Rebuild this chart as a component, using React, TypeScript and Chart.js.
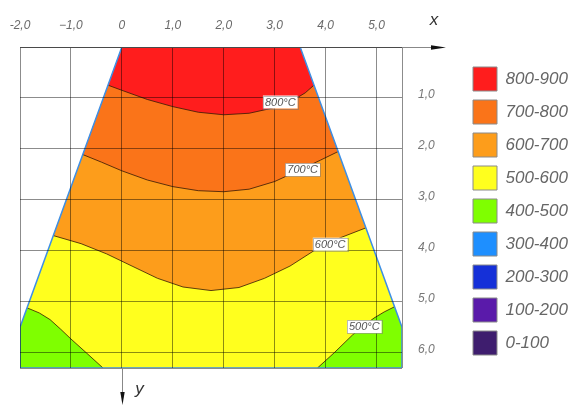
import React, { useEffect, useRef } from 'react';
import { Chart, registerables } from 'chart.js';

Chart.register(...registerables);

// ---- axis ticks ----
const xTicks = [-2, -1, 0, 1, 2, 3, 4, 5, 5.5];
const xTickLabels = ['-2,0', '\u22121,0', '0', '1,0', '2,0', '3,0', '4,0', '5,0', ''];
const yTicks = [0, 1, 2, 3, 4, 5, 6, 6.3];
const yTickLabels = ['', '1,0', '2,0', '3,0', '4,0', '5,0', '6,0', ''];

// ---- body outline (trapezoid) ----
const outlineX = [0, 3.5, 5.5, 5.5, -2, -2, 0];
const outlineY = [0, 0, 5.5, 6.3, 6.3, 5.5, 0];

// ---- isotherms ----
const c800X = [-0.27, 0, 0.5, 1.0, 1.5, 2.0, 2.5, 3.0, 3.4, 3.6, 3.77];
const c800Y = [0.75, 0.85, 1.03, 1.17, 1.28, 1.33, 1.3, 1.19, 1.02, 0.9, 0.75];

const c700X = [-0.77, -0.4, 0, 0.5, 1.0, 1.5, 2.0, 2.5, 3.0, 3.5, 3.9, 4.25];
const c700Y = [2.11, 2.26, 2.43, 2.61, 2.74, 2.82, 2.84, 2.79, 2.64, 2.41, 2.22, 2.05];

const c600X = [-1.35, -0.8, -0.3, 0.2, 0.7, 1.2, 1.75, 2.3, 2.8, 3.3, 3.8, 4.3, 4.79];
const c600Y = [3.7, 3.86, 4.06, 4.3, 4.54, 4.71, 4.78, 4.72, 4.54, 4.3, 3.98, 3.74, 3.55];

const c500LX = [-1.86, -1.62, -1.41, -1.2, -1.0, -0.7, -0.37];
const c500LY = [5.12, 5.22, 5.35, 5.54, 5.73, 6.0, 6.3];

const c500RX = [3.84, 4.17, 4.53, 4.75, 4.95, 5.15, 5.35];
const c500RY = [6.3, 6.0, 5.65, 5.47, 5.32, 5.2, 5.1];

// ---- isotherm labels ----
const isoLabels = ['800\u00B0C', '700\u00B0C', '600\u00B0C', '500\u00B0C'];
const isoLabelX = [3.11, 3.55, 4.09, 4.76];
const isoLabelY = [1.08, 2.41, 3.87, 5.49];

// ---- legend ----
const legendLabels = ['800-900', '700-800', '600-700', '500-600', '400-500', '300-400', '200-300', '100-200', '0-100'];
const legendColors = ['#ff1d1d', '#fa7419', '#fd9d1b', '#ffff1e', '#7fff00', '#1e8fff', '#1530d8', '#5a1aaa', '#3e1d6e'];

const FONT = '"Liberation Sans", "DejaVu Sans", sans-serif';

const pts = (xs: number[], ys: number[]) => xs.map((x, i) => ({ x, y: ys[i] }));

const isoLabelPlugin = {
  id: 'isoLabels',
  afterDraw(chart: any) {
    const { ctx, scales } = chart;
    ctx.save();
    ctx.font = `italic 11px ${FONT}`;
    ctx.textAlign = 'center';
    ctx.textBaseline = 'middle';
    isoLabels.forEach((t, i) => {
      const px = scales.x.getPixelForValue(isoLabelX[i]);
      const py = scales.y.getPixelForValue(isoLabelY[i]);
      const w = ctx.measureText(t).width + 4;
      const h = 13;
      ctx.fillStyle = '#ffffff';
      ctx.fillRect(px - w / 2, py - h / 2, w, h);
      ctx.strokeStyle = 'rgba(120,120,120,0.5)';
      ctx.lineWidth = 1;
      ctx.strokeRect(Math.round(px - w / 2) + 0.5, Math.round(py - h / 2) + 0.5, Math.round(w), h);
      ctx.fillStyle = '#555';
      ctx.fillText(t, px, py + 0.5);
    });
    ctx.restore();
  },
};

const arrowPlugin = {
  id: 'axisArrows',
  afterDraw(chart: any) {
    const { ctx, chartArea, scales } = chart;
    const y0 = Math.round(scales.y.getPixelForValue(0)) + 0.5;
    const x0 = Math.round(scales.x.getPixelForValue(0)) + 0.5;
    ctx.save();
    ctx.strokeStyle = '#888';
    ctx.lineWidth = 1;
    ctx.beginPath();
    ctx.moveTo(chartArea.right, y0);
    ctx.lineTo(chartArea.right + 33, y0);
    ctx.moveTo(x0, chartArea.bottom);
    ctx.lineTo(x0, chartArea.bottom + 26);
    ctx.stroke();
    ctx.fillStyle = '#111';
    ctx.beginPath();
    ctx.moveTo(chartArea.right + 44, y0);
    ctx.lineTo(chartArea.right + 29, y0 - 2.2);
    ctx.lineTo(chartArea.right + 29, y0 + 2.2);
    ctx.closePath();
    ctx.fill();
    ctx.beginPath();
    ctx.moveTo(x0, chartArea.bottom + 37);
    ctx.lineTo(x0 - 2.2, chartArea.bottom + 24);
    ctx.lineTo(x0 + 2.2, chartArea.bottom + 24);
    ctx.closePath();
    ctx.fill();
    ctx.font = `italic 17px ${FONT}`;
    ctx.fillStyle = '#333';
    ctx.textAlign = 'center';
    ctx.textBaseline = 'middle';
    ctx.fillText('x', chartArea.right + 32, 20);
    ctx.fillText('y', x0 + 17, chartArea.bottom + 21);
    ctx.restore();
  },
};

export default function App() {
  const ref = useRef<HTMLCanvasElement>(null);

  useEffect(() => {
    if (!ref.current) return;
    const top = [{ x: outlineX[1], y: outlineY[1] }, { x: outlineX[0], y: outlineY[0] }];
    const band = (xs: number[], ys: number[]) => {
      const p = pts(xs, ys);
      return [...p, ...top, p[0]];
    };
    const leftGreen = (() => {
      const p = pts(c500LX, c500LY);
      return [...p, { x: outlineX[4], y: outlineY[4] }, { x: outlineX[5], y: outlineY[5] }, p[0]];
    })();
    const rightGreen = (() => {
      const p = pts(c500RX, c500RY);
      return [...p, { x: outlineX[2], y: outlineY[2] }, { x: outlineX[3], y: outlineY[3] }, p[0]];
    })();

    const fillDs = (data: any[], color: string, order: number) => ({
      data,
      backgroundColor: color,
      borderColor: 'transparent',
      borderWidth: 0,
      fill: 'shape',
      tension: 0,
      pointRadius: 0,
      order,
    });
    const lineDs = (xs: number[], ys: number[]) => ({
      data: pts(xs, ys),
      borderColor: 'rgba(55,25,5,0.8)',
      borderWidth: 1,
      fill: false,
      tension: 0,
      pointRadius: 0,
      order: 2,
    });

    const gridColor = 'rgba(0,0,0,0.45)';

    const chart = new Chart(ref.current, {
      type: 'line',
      data: {
        datasets: [
          fillDs(pts(outlineX, outlineY), legendColors[3], 10),
          fillDs(leftGreen, legendColors[4], 9),
          fillDs(rightGreen, legendColors[4], 9),
          fillDs(band(c600X, c600Y), legendColors[2], 8),
          fillDs(band(c700X, c700Y), legendColors[1], 7),
          fillDs(band(c800X, c800Y), legendColors[0], 6),
          lineDs(c800X, c800Y),
          lineDs(c700X, c700Y),
          lineDs(c600X, c600Y),
          lineDs(c500LX, c500LY),
          lineDs(c500RX, c500RY),
          {
            data: pts(outlineX, outlineY),
            borderColor: '#3d8fe6',
            borderWidth: 1.5,
            fill: false,
            tension: 0,
            pointRadius: 0,
            order: 1,
          },
        ] as any,
      },
      options: {
        responsive: false,
        animation: false,
        events: [],
        layout: { padding: { top: 17, left: 20, bottom: 37, right: 0 } },
        elements: { point: { radius: 0 } },
        scales: {
          x: {
            type: 'linear',
            position: 'top',
            min: -2,
            max: 5.5,
            afterBuildTicks: (s: any) => {
              s.ticks = xTicks.map((v) => ({ value: v }));
            },
            afterFit: (s: any) => {
              s.height = 30;
              s.paddingLeft = 0;
              s.paddingRight = 0;
            },
            ticks: {
              autoSkip: false,
              maxRotation: 0,
              padding: 14,
              color: '#6a6a6a',
              font: { family: FONT, size: 12, style: 'italic' },
              callback: (_v: any, i: number) => xTickLabels[i],
            },
            grid: { color: gridColor, z: 1, drawTicks: false, lineWidth: 1 },
            border: { display: true, color: '#888', z: 1 },
          },
          y: {
            type: 'linear',
            position: 'right',
            reverse: true,
            min: 0,
            max: 6.3,
            afterBuildTicks: (s: any) => {
              s.ticks = yTicks.map((v) => ({ value: v }));
            },
            afterFit: (s: any) => {
              s.width = 62;
            },
            ticks: {
              autoSkip: false,
              padding: 16,
              labelOffset: -3,
              color: '#777',
              font: { family: FONT, size: 12, style: 'italic' },
              callback: (_v: any, i: number) => yTickLabels[i],
            },
            grid: { color: gridColor, z: 1, drawTicks: false, lineWidth: 1 },
            border: { display: false },
          },
        },
        plugins: {
          tooltip: { enabled: false },
          legend: {
            position: 'right',
            fullSize: false,
            maxWidth: 110,
            align: 'center',
            onClick: () => {},
            title: { display: true, text: '', padding: 0, font: { size: 7, lineHeight: 1 } },
            labels: {
              boxWidth: 24,
              boxHeight: 24,
              padding: 9,
              color: '#333',
              font: { family: FONT, size: 17, style: 'italic' },
              generateLabels: () =>
                legendLabels.map((t, i) => ({
                  text: t,
                  fillStyle: legendColors[i],
                  strokeStyle: '#8a8a8a',
                  lineWidth: 1,
                  hidden: false,
                  index: i,
                })),
            },
          },
        },
      },
      plugins: [isoLabelPlugin, arrowPlugin],
    } as any);
    return () => chart.destroy();
  }, []);

  return (
    <div style={{ position: 'absolute', left: 0, top: 0, width: 574, height: 405, background: '#fff' }}>
      <canvas ref={ref} width={574} height={405} style={{ display: 'block' }} />
    </div>
  );
}
